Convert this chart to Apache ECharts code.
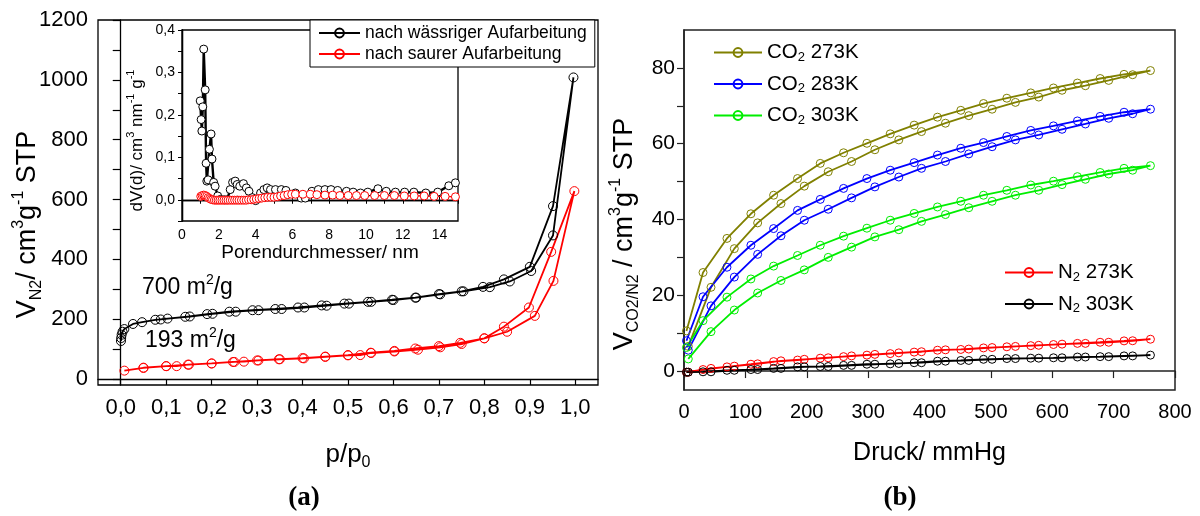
<!DOCTYPE html>
<html>
<head>
<meta charset="utf-8">
<script src="https://cdn.jsdelivr.net/npm/echarts@6/dist/echarts.min.js"></script>
<style>html,body{margin:0;padding:0;background:#fff}#c{width:1200px;height:516px}</style>
</head>
<body>
<div id="c"></div>
<script>
// ---------- Panel (a): N2 isotherms ----------
const waessrigP = [0.0005,0.001,0.002,0.004,0.008,0.027,0.047,0.076,0.103,0.152,0.202,0.253,0.303,0.354,0.404,0.453,0.502,0.551,0.6,0.65,0.703,0.754,0.812,0.856,0.903,0.951,0.996,
                   0.951,0.9,0.843,0.797,0.75,0.7,0.648,0.597,0.544,0.492,0.442,0.39,0.34,0.29,0.239,0.19,0.142,0.088];
const waessrigV = [127,137,148,158,167,184,190,198,202,209,218,225,230,234,239,245,252,258,264,272,283,293,307,326,361,480,1008,
                   578,375,333,308,293,284,272,265,258,252,246,239,234,230,225,217,208,199];
const saurerP = [0.008,0.05,0.1,0.123,0.148,0.2,0.247,0.271,0.303,0.348,0.403,0.45,0.5,0.527,0.551,0.602,0.654,0.703,0.75,0.8,0.85,0.911,0.952,0.998,
                 0.947,0.898,0.843,0.8,0.747,0.7,0.648,0.602,0.55,0.5,0.45,0.4,0.35,0.3,0.25,0.2,0.15,0.1,0.05];
const saurerV = [28,37,43,43,48,52,57,58,62,66,69,74,79,80,87,92,98,106,117,136,158,211,328,628,
                 425,239,175,136,121,110,102,94,88,80,75,70,66,62,57,52,48,43,38];
// inset: pore size distribution
const psdWaessrigD = [0.99,1.04,1.08,1.13,1.18,1.26,1.31,1.35,1.42,1.49,1.58,1.63,1.72,1.80,1.94,2.1,2.3,2.45,2.62,2.75,2.89,3.0,3.14,3.34,3.5,3.64,3.82,4.0,4.27,4.45,4.63,4.81,5.08,5.4,5.65,6.16,6.48,6.7,7.06,7.41,7.77,8.1,8.46,8.94,9.3,9.7,10.1,10.65,11.1,11.6,12.1,12.6,13.25,13.9,14.5,14.86];
const psdWaessrigV = [0.233,0.189,0.162,0.219,0.355,0.259,0.086,0.044,0.047,0.119,0.155,0.096,0.041,0.032,0.009,0.001,0.0,0.0,0.024,0.041,0.044,0.036,0.032,0.038,0.028,0.020,0.005,-0.002,0.016,0.024,0.028,0.024,0.024,0.024,0.022,0.016,0.004,0.004,0.020,0.024,0.024,0.024,0.022,0.020,0.018,0.016,0.018,0.026,0.020,0.018,0.018,0.018,0.016,0.018,0.033,0.040];
const psdSaurerD = [1.02,1.1,1.18,1.26,1.34,1.42,1.5,1.58,1.66,1.76,1.86,1.96,2.06,2.17,2.28,2.39,2.5,2.62,2.74,2.86,2.98,3.1,3.23,3.36,3.49,3.62,3.76,3.9,4.04,4.19,4.34,4.5,4.66,4.83,5.0,5.18,5.36,5.55,5.75,5.96,6.16,6.57,6.97,7.33,7.77,8.19,8.58,9.03,9.48,9.93,10.47,11.0,11.54,12.08,12.62,13.16,13.7,14.3,14.86];
const psdSaurerV = [0.008,0.010,0.011,0.010,0.008,0.005,0.003,0.001,0.0,-0.001,-0.001,-0.001,-0.001,-0.001,-0.001,-0.001,-0.001,-0.001,-0.001,-0.001,-0.001,-0.001,-0.001,-0.001,-0.001,0.0,0.0,0.001,0.002,0.003,0.004,0.005,0.006,0.006,0.006,0.007,0.009,0.010,0.012,0.013,0.013,0.013,0.013,0.012,0.011,0.011,0.010,0.010,0.010,0.010,0.010,0.010,0.010,0.009,0.009,0.009,0.008,0.008,0.007];

// ---------- Panel (b): CO2 / N2 isotherms ----------
const pAds = [7,44,82,120,158,196,235,273,311,350,387,426,464,502,540,578,616,654,692,731,760];
const pDes = [717,678,641,602,565,526,488,451,413,375,336,298,260,222,185,146,109,70,31,4];
const co2_273_ads = [6.5,22.1,32.3,39.1,44.2,48.8,52.6,55.3,58.4,61.0,63.2,65.4,67.4,69.1,70.9,72.3,74.1,75.3,76.7,78.2,79.3];
const co2_273_des = [78.3,77.2,76.0,74.7,73.4,72.0,70.6,68.8,67.0,64.9,62.6,60.1,57.6,54.8,50.8,46.4,41.5,35.0,26.0,10.6];
const co2_283_ads = [5.5,17.2,24.8,30.8,35.7,39.8,42.7,45.7,48.6,51.2,53.5,55.3,57.3,59.2,61.0,62.3,63.8,65.2,66.7,67.9,69.1];
const co2_283_des = [68.3,67.2,66.0,64.7,63.5,61.9,60.3,58.8,57.0,55.0,53.0,50.8,48.2,45.3,42.4,37.6,33.2,27.4,19.6,8.0];
const co2_303_ads = [3.2,10.4,16.1,20.6,23.9,26.7,30.0,32.7,35.4,37.3,39.5,41.3,43.1,44.8,46.4,47.7,49.2,50.6,52.0,53.0,54.2];
const co2_303_des = [53.5,52.4,51.3,50.1,49.1,47.7,46.4,44.8,43.3,41.6,39.8,37.7,35.6,33.2,30.5,27.7,24.3,19.5,13.3,6.2];
const n2_273_ads = [-0.3,0.7,1.3,1.9,2.7,3.1,3.5,4.0,4.4,4.8,5.1,5.6,5.8,6.2,6.5,6.8,7.1,7.3,7.6,8.0,8.4];
const n2_273_des = [7.96,7.6,7.3,7.0,6.7,6.4,6.1,5.7,5.5,5.0,4.6,4.2,3.8,3.4,2.9,2.5,1.8,1.1,0.4,-0.3];
const n2_303_ads = [-0.3,-0.2,0.2,0.4,0.7,1.1,1.2,1.5,1.8,2.0,2.2,2.6,2.8,3.1,3.3,3.4,3.5,3.7,3.8,4.0,4.2];
const n2_303_des = [4.0,3.8,3.7,3.5,3.4,3.3,3.1,2.8,2.6,2.2,1.9,1.8,1.5,1.2,1.1,0.7,0.4,0.2,-0.2,-0.3];

// tick values
const aYTicks = [0,100,200,300,400,500,600,700,800,900,1000,1100,1200];
const aYLabels = [0,200,400,600,800,1000,1200];
const aXTicks = [0,0.1,0.2,0.3,0.4,0.5,0.6,0.7,0.8,0.9,1.0];
const bYTicks = [0,10,20,30,40,50,60,70,80];
const bYLabels = [0,20,40,60,80];

const FONT = 'Liberation Sans';
const zip = (xs, ys) => xs.map((x, i) => [x, ys[i]]);
const loop = (xa, ya, xd, yd) => zip(xa, ya).concat(zip(xd, yd));
const comma = (v, d) => v.toFixed(d).replace('.', ',');

function rich(S, s, LH, color) {
  return {
    t: {fontSize: S, lineHeight: LH, fontFamily: FONT, color: color},
    sub: {fontSize: s, lineHeight: s, verticalAlign: 'bottom', fontFamily: FONT, color: color},
    sup: {fontSize: s, lineHeight: s, verticalAlign: 'top', fontFamily: FONT, color: color}
  };
}

function lineSeries(name, xi, yi, data, color, lw, size, fill) {
  return {
    type: 'line', name: name, xAxisIndex: xi, yAxisIndex: yi, data: data,
    symbol: 'circle', symbolSize: size, smooth: false,
    lineStyle: {color: color, width: lw},
    itemStyle: {color: fill, borderColor: color, borderWidth: 1},
    emphasis: {disabled: true}, animation: false
  };
}

const chart = echarts.init(document.getElementById('c'), null, {renderer: 'canvas'});

const axisCommon = {
  axisLine: {show: true, lineStyle: {color: '#000', width: 1.3}},
  splitLine: {show: false}
};

const option = {
  backgroundColor: '#fff',
  animation: false,
  grid: [
    {left: 98, top: 20, width: 500, height: 365, show: true, borderColor: '#000', borderWidth: 1.3, containLabel: false},
    {left: 684, top: 30, width: 491, height: 360, show: true, borderColor: '#222', borderWidth: 1.5, containLabel: false},
    {left: 182, top: 30, width: 276, height: 191, show: true, borderColor: '#000', borderWidth: 1.3, containLabel: false}
  ],
  xAxis: [
    Object.assign({}, axisCommon, {
      type: 'value', gridIndex: 0, min: -0.05, max: 1.05, position: 'bottom',
      axisTick: {show: true, inside: false, length: 6, customValues: aXTicks, lineStyle: {color: '#000', width: 1.2}},
      axisLabel: {customValues: aXTicks, margin: 12, fontSize: 22, fontFamily: FONT, color: '#000', formatter: v => comma(v, 1)},
      name: '{t|p/p}{sub|0}', nameLocation: 'middle', nameGap: 54,
      nameTextStyle: {rich: rich(26, 16, 32, '#000')}
    }),
    Object.assign({}, axisCommon, {
      type: 'value', gridIndex: 1, min: 0, max: 800, interval: 100, position: 'bottom',
      axisLine: {show: true, lineStyle: {color: '#222', width: 1.5}},
      axisTick: {show: true, inside: false, length: 7, lineStyle: {color: '#222', width: 1.2}},
      axisLabel: {margin: 12, fontSize: 20, fontFamily: FONT, color: '#000', showMaxLabel: true},
      name: 'Druck/ mmHg', nameLocation: 'middle', nameGap: 51,
      nameTextStyle: {fontSize: 25, fontFamily: FONT, color: '#000'}
    }),
    Object.assign({}, axisCommon, {
      type: 'value', gridIndex: 2, min: 0, max: 15, interval: 1, position: 'bottom',
      axisTick: {show: true, inside: true, length: 4, lineStyle: {color: '#000', width: 1}},
      axisLabel: {margin: 7, fontSize: 14, fontFamily: FONT, color: '#000', formatter: v => (Math.round(v) % 2 === 0 && v < 15 ? String(v) : '')},
      name: 'Porendurchmesser/ nm', nameLocation: 'middle', nameGap: 22,
      nameTextStyle: {fontSize: 19, fontFamily: FONT, color: '#000'}
    }),
    Object.assign({}, axisCommon, {
      type: 'value', gridIndex: 2, min: 0, max: 15, interval: 1, position: 'top',
      axisTick: {show: true, inside: true, length: 4, lineStyle: {color: '#000', width: 1}},
      axisLabel: {show: false}
    })
  ],
  yAxis: [
    Object.assign({}, axisCommon, {
      type: 'value', gridIndex: 0, min: -20, max: 1200, position: 'left',
      axisTick: {show: true, inside: false, length: 8, customValues: aYTicks, lineStyle: {color: '#000', width: 1.2}},
      axisLabel: {customValues: aYLabels, margin: 10, fontSize: 22, fontFamily: FONT, color: '#000', formatter: v => String(v)},
      name: '{t|V}{sub|N2}{t|/ cm}{sup|3}{t|g}{sup|-1}{t| STP}', nameLocation: 'middle', nameRotate: 90, nameGap: 53,
      nameMoveOverlap: false,
      nameTextStyle: {rich: rich(27, 16, 34, '#000'), padding: [0, 44, 0, 0]}
    }),
    Object.assign({}, axisCommon, {
      type: 'value', gridIndex: 1, min: -5, max: 90, position: 'left',
      axisLine: {show: true, lineStyle: {color: '#222', width: 1.5}},
      axisTick: {show: true, inside: false, length: 7, customValues: bYTicks, lineStyle: {color: '#222', width: 1.2}},
      axisLabel: {customValues: bYLabels, margin: 9, fontSize: 21, fontFamily: FONT, color: '#000'},
      name: '{t|V}{sub|CO2/N2}{t| / cm}{sup|3}{t|g}{sup|-1}{t| STP}', nameLocation: 'middle', nameRotate: 90, nameGap: 42,
      nameTextStyle: {rich: rich(27, 16, 34, '#000'), padding: [0, 48, 0, 0]}
    }),
    Object.assign({}, axisCommon, {
      type: 'value', gridIndex: 2, min: -0.05, max: 0.4, interval: 0.05, position: 'left',
      axisTick: {show: true, inside: false, length: 4, lineStyle: {color: '#000', width: 1}},
      axisLabel: {margin: 7, fontSize: 14, fontFamily: FONT, color: '#000',
        formatter: v => { const r = Math.round(v * 100); return (r >= 0 && r % 10 === 0) ? comma(r / 100, 1) : ''; }},
      name: '{t|dV(d)/ cm}{sup|3}{t| nm}{sup|-1}{t| g}{sup|-1}', nameLocation: 'middle', nameRotate: 90, nameGap: 33,
      nameTextStyle: {rich: rich(17, 11, 24, '#000'), padding: [0, 30, 0, 0]}
    }),
    Object.assign({}, axisCommon, {
      type: 'value', gridIndex: 2, min: -0.05, max: 0.4, interval: 0.05, position: 'right',
      axisTick: {show: false},
      axisLabel: {show: false}
    })
  ],
  legend: [
    {
      data: ['nach wässriger Aufarbeitung', 'nach saurer Aufarbeitung'],
      orient: 'vertical', left: 310, top: 20, itemWidth: 41, itemHeight: 11, itemGap: 3,
      padding: [4, 8, 4, 8], borderColor: '#000', borderWidth: 1, backgroundColor: '#fff',
      textStyle: {fontSize: 17.5, lineHeight: 18, fontFamily: FONT, color: '#000'},
      selectedMode: false, z: 10
    },
    {
      data: ['CO2 273K', 'CO2 283K', 'CO2 303K'],
      orient: 'vertical', left: 713, top: 42, itemWidth: 48, itemHeight: 11, itemGap: 10, padding: 0,
      formatter: n => { const m = n.match(/^(CO|N)2 (.*)$/); return '{t|' + m[1] + '}{sub|2}{t| ' + m[2] + '}'; },
      textStyle: {rich: rich(20.5, 13, 22, '#000')}, selectedMode: false
    },
    {
      data: ['N2 273K', 'N2 303K'],
      orient: 'vertical', left: 1004, top: 262, itemWidth: 48, itemHeight: 11, itemGap: 10, padding: 0,
      formatter: n => { const m = n.match(/^(CO|N)2 (.*)$/); return '{t|' + m[1] + '}{sub|2}{t| ' + m[2] + '}'; },
      textStyle: {rich: rich(20.5, 13, 22, '#000')}, selectedMode: false
    }
  ],
  series: [
    lineSeries('nach wässriger Aufarbeitung', 0, 0, zip(waessrigP, waessrigV), '#000000', 1.8, 9, 'rgba(0,0,0,0)'),
    lineSeries('nach saurer Aufarbeitung', 0, 0, zip(saurerP, saurerV), '#ff0000', 1.8, 9, 'rgba(0,0,0,0)'),
    lineSeries('PSD wässrig', 2, 2, zip(psdWaessrigD, psdWaessrigV), '#000000', 2.4, 8, '#ffffff'),
    lineSeries('PSD sauer', 2, 2, zip(psdSaurerD, psdSaurerV), '#ff0000', 1.2, 8, '#ffffff'),
    lineSeries('CO2 273K', 1, 1, loop(pAds, co2_273_ads, pDes, co2_273_des), '#808000', 1.8, 8, 'rgba(0,0,0,0)'),
    lineSeries('CO2 283K', 1, 1, loop(pAds, co2_283_ads, pDes, co2_283_des), '#0000ff', 1.8, 8, 'rgba(0,0,0,0)'),
    lineSeries('CO2 303K', 1, 1, loop(pAds, co2_303_ads, pDes, co2_303_des), '#00ee00', 1.8, 8, 'rgba(0,0,0,0)'),
    lineSeries('N2 273K', 1, 1, loop(pAds, n2_273_ads, pDes, n2_273_des), '#ff0000', 1.8, 8, 'rgba(0,0,0,0)'),
    lineSeries('N2 303K', 1, 1, loop(pAds, n2_303_ads, pDes, n2_303_des), '#000000', 1.8, 8, 'rgba(0,0,0,0)')
  ],
  graphic: [
    {type: 'text', left: 142, top: 273, z: 20,
     style: {text: '{t|700 m}{sup|2}{t|/g}', rich: rich(23, 14, 30, '#000')}},
    {type: 'text', left: 145, top: 326, z: 20,
     style: {text: '{t|193 m}{sup|2}{t|/g}', rich: rich(23, 14, 30, '#ff0000')}},
    {type: 'text', x: 304, y: 498, z: 20,
     style: {text: '(a)', font: 'bold 27px "Liberation Serif"', fill: '#000', align: 'center', verticalAlign: 'middle'}},
    {type: 'text', x: 900, y: 498, z: 20,
     style: {text: '(b)', font: 'bold 27px "Liberation Serif"', fill: '#000', align: 'center', verticalAlign: 'middle'}}
  ]
};
chart.setOption(option);
</script>
</body>
</html>
